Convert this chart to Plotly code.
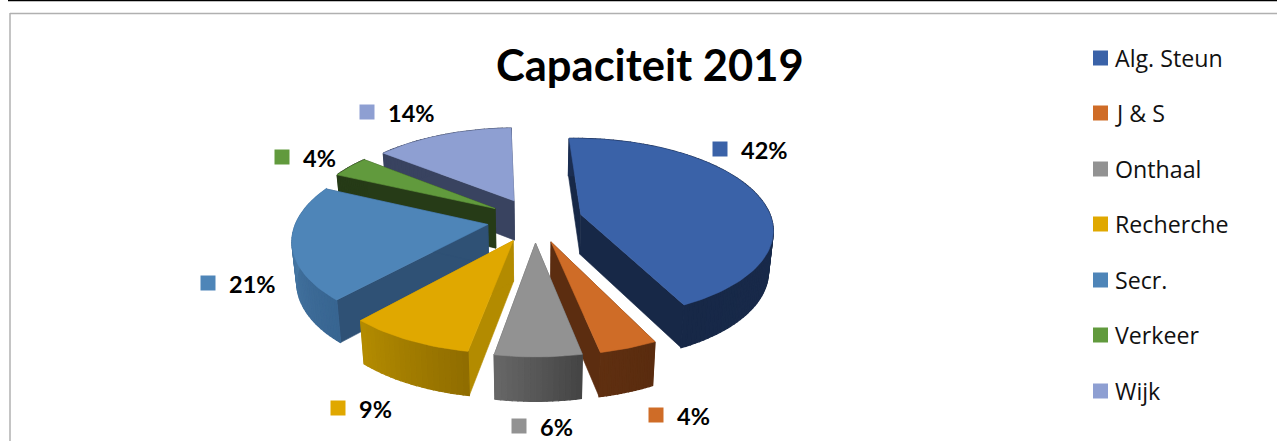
import numpy as np
import plotly.graph_objects as go

# ---- data ----
categories = ["Alg. Steun", "J & S", "Onthaal", "Recherche", "Secr.", "Verkeer", "Wijk"]
shares = [42, 4, 6, 9, 21, 4, 14]
title_text = "Capaciteit 2019"

# ---- styles ----
top_colors = ["#3A62A8", "#CF6C27", "#929292", "#E0A800", "#4E85B8", "#619A3D", "#8E9FD2"]
wall_colors = ["#172847", "#5C2D10", "#505050", "#B38B00", "#2F5175", "#263B17", "#394360"]
outer_left = ["#172847", "#5F2F10", "#666666", "#B38B00", "#4E81AE", "#263B17", "#394360"]
outer_right = ["#1B2E52", "#5A2C0F", "#454545", "#906D00", "#386591", "#263B17", "#394360"]
W, H = 1277, 441
CX, CY = 535, 220
RX, RY = 191, 89
PERSP, EXPLODE, DEPTH = 0.15, 0.25, 40
START_DEG, VIEW_SKEW = -2, 5
label_xy = [(720, 149), (656, 415), (519, 426), (338, 408), (208, 283), (282, 157), (367, 112)]
legend_y = [58, 113, 169, 224, 280, 335, 391]
FS_LABEL, FS_LEGEND, FS_TITLE = 23.5, 23.2, 43.5


def project(u, v, lower=False):
    s = 1 / (1 + PERSP * v)
    x = CX + RX * u * s
    y = CY - RY * v * s
    if lower:
        x = CX + (x - CX) * 0.98
        y = y + DEPTH * np.sqrt(s)
    return x, y


def view_angle(deg):
    """Angle on the tilted disc: the view slightly turns the front of the pie."""
    d = deg + START_DEG
    return np.radians(d + VIEW_SKEW * (1 - np.cos(np.radians(d))) / 2)


def mix(c1, c2, t):
    a = [int(c1[i:i + 2], 16) for i in (1, 3, 5)]
    b = [int(c2[i:i + 2], 16) for i in (1, 3, 5)]
    return "rgb(%d,%d,%d)" % tuple(round(p + (q - p) * t) for p, q in zip(a, b))


fig = go.Figure()


def poly(xs, ys, color, width=0.6):
    fig.add_trace(go.Scatter(x=list(xs), y=list(ys), mode="lines", fill="toself", fillcolor=color,
                             line=dict(color=color, width=width), hoverinfo="skip", showlegend=False))


total = sum(shares)
edges = np.cumsum([0] + shares) / total * 360
mids = (edges[:-1] + edges[1:]) / 2
order = np.argsort(-np.cos(view_angle(mids)))

for i in order:
    a0, a1, m = view_angle(edges[i]), view_angle(edges[i + 1]), view_angle(mids[i])
    ox, oy = EXPLODE * np.sin(m), EXPLODE * np.cos(m)
    arc = np.linspace(a0, a1, max(int(np.degrees(a1 - a0) / 1.5), 16))
    u, v = ox + np.sin(arc), oy + np.cos(arc)
    # radial walls
    for a in (a0, a1):
        ue, ve = ox + np.sin(a), oy + np.cos(a)
        x1, y1 = project(ox, oy)
        x2, y2 = project(ue, ve)
        x3, y3 = project(ue, ve, True)
        x4, y4 = project(ox, oy, True)
        poly([x1, x2, x3, x4, x1], [y1, y2, y3, y4, y1], wall_colors[i])
    # outer wall, shaded in strips
    n = len(arc)
    for k in range(n - 1):
        t = k / max(n - 2, 1)
        ua, va = u[k:k + 2], v[k:k + 2]
        xt, yt = project(ua, va)
        xb, yb = project(ua, va, True)
        col = mix(outer_left[i], outer_right[i], 1 - t)
        poly([xt[0], xt[1], xb[1], xb[0], xt[0]], [yt[0], yt[1], yb[1], yb[0], yt[0]], col, width=1.3)
    # top face
    xt, yt = project(np.r_[ox, u, ox], np.r_[oy, v, oy])
    poly(xt, yt, top_colors[i])

# swatches for data labels and legend
fig.add_trace(go.Scatter(x=[p[0] for p in label_xy], y=[p[1] for p in label_xy], mode="markers",
                         marker=dict(symbol="square", size=15, color=top_colors, line=dict(width=0)),
                         hoverinfo="skip", showlegend=False))
fig.add_trace(go.Scatter(x=[1100.5] * len(categories), y=legend_y, mode="markers",
                         marker=dict(symbol="square", size=15, color=top_colors, line=dict(width=0)),
                         hoverinfo="skip", showlegend=False))

ann = [dict(x=649.5, y=64, text="<b>%s</b>" % title_text, showarrow=False, xanchor="center", yanchor="middle",
            font=dict(family="Lato", size=FS_TITLE, color="#000000"))]
for (lx, ly), s in zip(label_xy, shares):
    ann.append(dict(x=lx + 19, y=ly + 1, text="<b>%d%%</b>" % s, showarrow=False, xanchor="left", yanchor="middle",
                    font=dict(family="Lato", size=FS_LABEL, color="#000000")))
for c, y in zip(categories, legend_y):
    ann.append(dict(x=1113, y=y, text=c, showarrow=False, xanchor="left", yanchor="middle",
                    font=dict(family="Open Sans", size=FS_LEGEND, color="#111111")))

shapes = [
    dict(type="line", xref="x", yref="y", x0=8, x1=1277, y0=0.5, y1=0.5, line=dict(color="#000000", width=1.5)),
    dict(type="line", xref="x", yref="y", x0=10, x1=1277, y0=13.5, y1=13.5, line=dict(color="#B0B0B0", width=1.5)),
    dict(type="line", xref="x", yref="y", x0=10, x1=10, y0=13, y1=441, line=dict(color="#B0B0B0", width=1.5)),
]

fig.update_layout(width=W, height=H, margin=dict(l=0, r=0, t=0, b=0), autosize=False,
                  paper_bgcolor="white", plot_bgcolor="white", showlegend=False,
                  annotations=ann, shapes=shapes,
                  xaxis=dict(range=[0, W], visible=False, fixedrange=True),
                  yaxis=dict(range=[H, 0], visible=False, fixedrange=True))
fig.write_html("out.html", config={"displayModeBar": False}, post_script="document.body.style.margin='0';")
